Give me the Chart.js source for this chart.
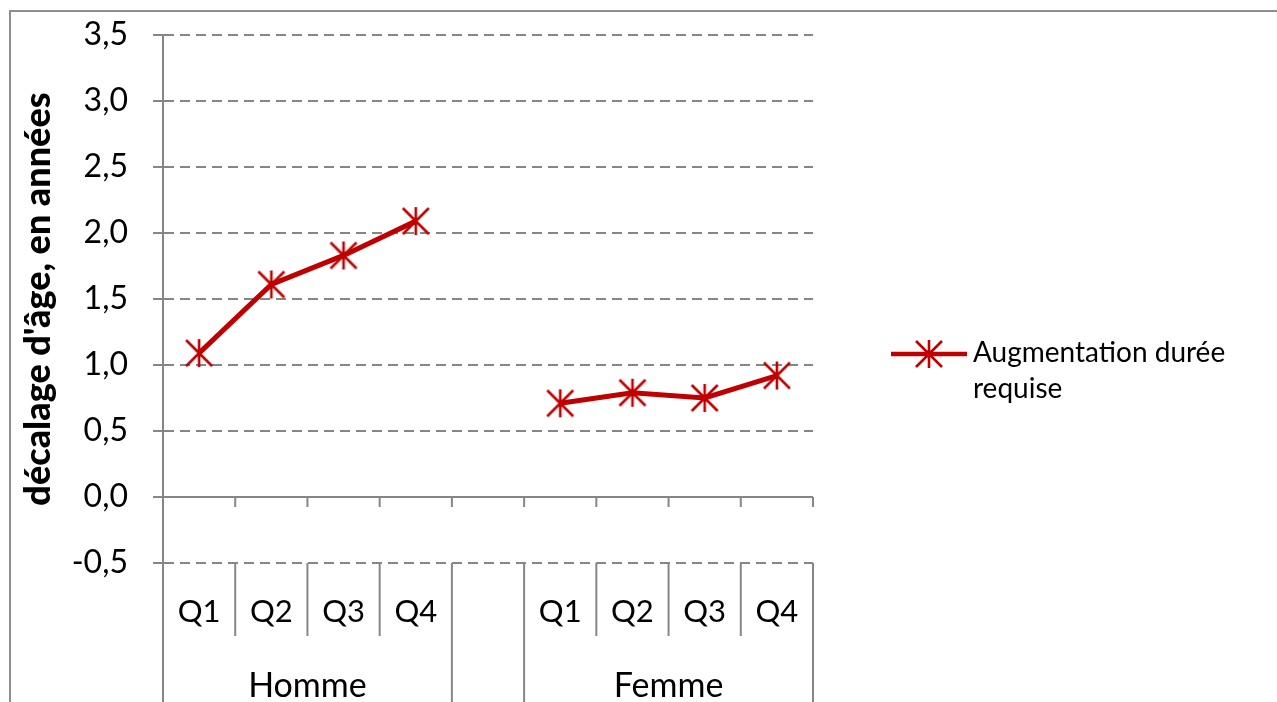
<!DOCTYPE html>
<html>
<head>
<meta charset="utf-8">
<script src="https://cdn.jsdelivr.net/npm/chart.js@4/dist/chart.umd.min.js"></script>
<style>
    body { margin: 0; background: #fff; }
</style>
</head>
<body>
<canvas id="chart" width="1277" height="702"></canvas>
<script>
const quarterLabels = ["Q1", "Q2", "Q3", "Q4"];
const groupLabels = ["Homme", "Femme"];
const hommeValues = [1.09, 1.61, 1.83, 2.09];
const femmeValues = [0.71, 0.79, 0.75, 0.92];
const yTicks = [-0.5, 0, 0.5, 1, 1.5, 2, 2.5, 3, 3.5];
const seriesLabel = ["Augmentation durée", "requise"];
const yTitle = "décalage d'âge, en années";

const font = "Lato, sans-serif";
const gray = "#868686";
const red = "#C00000";

// categories: Q1..Q4, empty slot, Q1..Q4
const labels = [...quarterLabels, "", ...quarterLabels];
const values = [...hommeValues, null, ...femmeValues];

function makeStar() {
    const c = document.createElement("canvas");
    c.width = 30;
    c.height = 30;
    const g = c.getContext("2d");
    g.strokeStyle = red;
    g.lineWidth = 2.6;
    g.beginPath();
    g.moveTo(2, 2); g.lineTo(28, 28);
    g.moveTo(28, 2); g.lineTo(2, 28);
    g.moveTo(15, 1); g.lineTo(15, 29);
    g.stroke();
    return c;
}
const star = makeStar();

function slotBounds(xScale) {
    const n = xScale.ticks.length;
    const half = (xScale.getPixelForValue(1) - xScale.getPixelForValue(0)) / 2;
    const bounds = [];
    for (let i = 0; i < n; i++) {
        bounds.push(xScale.getPixelForValue(i) - half);
    }
    bounds.push(xScale.getPixelForValue(n - 1) + half);
    return bounds;
}

const decor = {
    id: "decor",
    beforeDraw(chart) {
        const ctx = chart.ctx;
        ctx.save();
        ctx.strokeStyle = "#8e8e8e";
        ctx.lineWidth = 2;
        ctx.beginPath();
        ctx.moveTo(10, chart.height);
        ctx.lineTo(10, 11);
        ctx.lineTo(chart.width, 11);
        ctx.stroke();
        ctx.restore();
    },
    beforeDatasetsDraw(chart) {
        const { ctx, chartArea, scales } = chart;
        const y0 = scales.y.getPixelForValue(0);
        const bounds = slotBounds(scales.x);
        ctx.save();
        ctx.strokeStyle = gray;
        ctx.lineWidth = 2;
        ctx.beginPath();
        ctx.moveTo(chartArea.left - 10, y0);
        ctx.lineTo(chartArea.right, y0);
        for (let i = 1; i < bounds.length; i++) {
            ctx.moveTo(bounds[i], y0);
            ctx.lineTo(bounds[i], y0 + 10);
        }
        ctx.stroke();
        ctx.restore();
    },
    afterDraw(chart) {
        const { ctx, chartArea, scales } = chart;
        const bounds = slotBounds(scales.x);
        const groupSize = quarterLabels.length;
        const edges = [];
        groupLabels.forEach((g, k) => {
            edges.push(k * (groupSize + 1), k * (groupSize + 1) + groupSize);
        });

        ctx.save();
        ctx.strokeStyle = gray;
        ctx.lineWidth = 2;
        ctx.beginPath();
        bounds.forEach((bx, i) => {
            const long = edges.includes(i);
            ctx.moveTo(bx, chartArea.bottom);
            ctx.lineTo(bx, long ? chart.height : chartArea.bottom + 73);
        });
        ctx.stroke();

        ctx.fillStyle = "#000";
        ctx.font = "34px " + font;
        ctx.textAlign = "center";
        ctx.textBaseline = "alphabetic";
        groupLabels.forEach((g, k) => {
            const a = bounds[k * (groupSize + 1)];
            const b = bounds[k * (groupSize + 1) + groupSize];
            ctx.fillText(g, (a + b) / 2, 697);
        });

        // legend
        const lx = chartArea.right + 78;
        const ly = 354;
        ctx.strokeStyle = red;
        ctx.lineWidth = 4.5;
        ctx.beginPath();
        ctx.moveTo(lx, ly);
        ctx.lineTo(lx + 76, ly);
        ctx.stroke();
        ctx.drawImage(star, lx + 38 - 15, ly - 15);
        ctx.font = "28px " + font;
        ctx.textAlign = "left";
        seriesLabel.forEach((line, i) => {
            ctx.fillText(line, lx + 82, 362 + i * 36);
        });
        ctx.restore();
    }
};

new Chart(document.getElementById("chart"), {
    type: "line",
    data: {
        labels: labels,
        datasets: [{
            label: seriesLabel.join(" "),
            data: values,
            borderColor: red,
            backgroundColor: red,
            borderWidth: 5,
            pointStyle: star,
            pointRadius: 15,
            spanGaps: false,
            tension: 0,
            clip: false
        }]
    },
    options: {
        responsive: false,
        animation: false,
        layout: {
            padding: { top: 35, right: 464, bottom: 0, left: 0 }
        },
        plugins: {
            legend: { display: false },
            tooltip: { enabled: false }
        },
        scales: {
            x: {
                type: "category",
                offset: true,
                grid: { display: false, drawTicks: false },
                border: { display: false },
                ticks: {
                    color: "#000",
                    font: { family: font, size: 31 },
                    padding: 30,
                    maxRotation: 0,
                    autoSkip: false
                },
                afterFit(scale) {
                    scale.height = 139;
                }
            },
            y: {
                min: -0.5,
                max: 3.5,
                afterBuildTicks(scale) {
                    scale.ticks = yTicks.map(v => ({ value: v }));
                },
                grid: {
                    color: gray,
                    lineWidth: 2,
                    tickLength: 10,
                    tickColor: gray,
                    tickWidth: 2,
                    tickBorderDash: []
                },
                border: {
                    display: true,
                    color: gray,
                    width: 2,
                    dash: (c) => (c.tick && c.tick.value === 0 ? [] : [10, 6])
                },
                ticks: {
                    color: "#000",
                    font: { family: font, size: 32 },
                    padding: 25,
                    callback: (v) => v.toFixed(1).replace(".", ",")
                },
                title: {
                    display: true,
                    text: yTitle,
                    color: "#000",
                    font: { family: font, size: 36, weight: "900" },
                    padding: { top: 17, bottom: 0 }
                },
                afterFit(scale) {
                    scale.width = 163;
                    scale.paddingTop = 0;
                    scale.paddingBottom = 0;
                }
            }
        }
    },
    plugins: [decor]
});
</script>
</body>
</html>
